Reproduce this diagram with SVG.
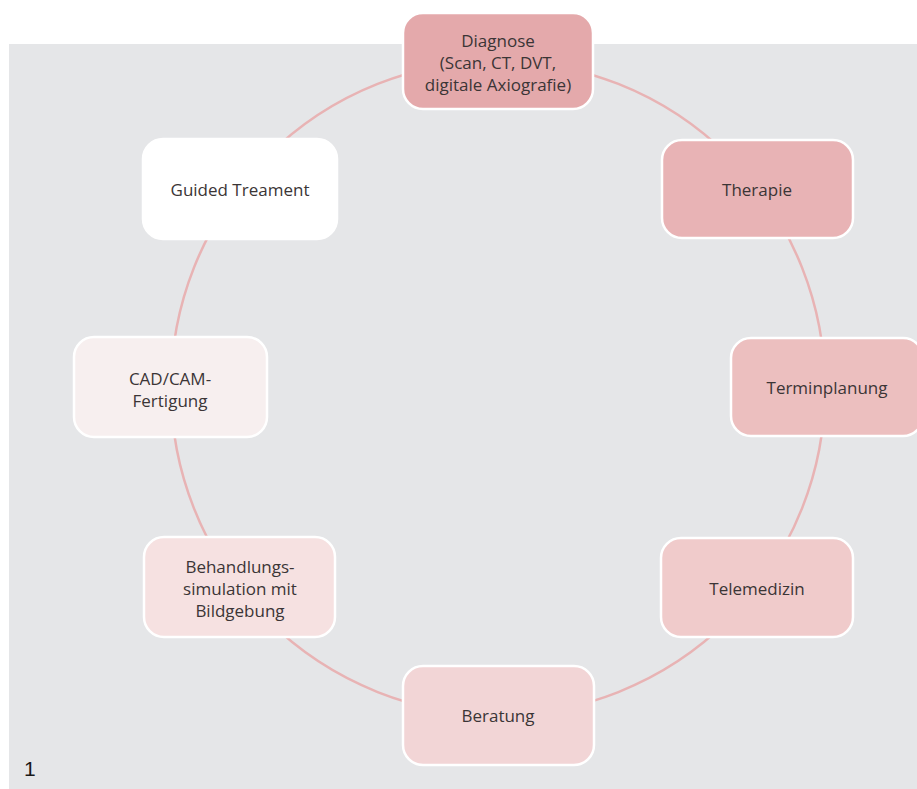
<svg xmlns="http://www.w3.org/2000/svg" width="917" height="789" viewBox="0 0 917 789">
<style>
.node rect{stroke:#ffffff;stroke-width:2.5}
.node text{font-family:"Open Sans","Noto Sans",sans-serif;font-size:17px;fill:#3b3536;text-anchor:middle}
.conn{fill:none;stroke:#e8b3b4;stroke-width:2.5}
</style>
<rect x="9" y="44" width="910" height="746" fill="#e5e6e8"/>
<g id="connectors">
<circle class="conn" cx="498" cy="388" r="327"/>
</g>
<g id="n-diagnose" class="node">
<rect x="403" y="13" width="190" height="96" rx="20" fill="#e4a9ab"/>
<text x="498" y="47">Diagnose</text>
<text x="498" y="69">(Scan, CT, DVT,</text>
<text x="498" y="91">digitale Axiografie)</text>
</g>
<g id="n-therapie" class="node">
<rect x="662" y="140" width="191" height="98" rx="20" fill="#e8b3b5"/>
<text x="757" y="196">Therapie</text>
</g>
<g id="n-terminplanung" class="node">
<rect x="731" y="338" width="192" height="98" rx="20" fill="#ecbfbf"/>
<text x="827" y="394">Terminplanung</text>
</g>
<g id="n-telemedizin" class="node">
<rect x="661" y="538" width="192" height="99" rx="20" fill="#f0cbcb"/>
<text x="757" y="595">Telemedizin</text>
</g>
<g id="n-beratung" class="node">
<rect x="403" y="666" width="191" height="99" rx="20" fill="#f2d5d6"/>
<text x="498" y="722">Beratung</text>
</g>
<g id="n-behandlung" class="node">
<rect x="144" y="537" width="191" height="100" rx="20" fill="#f6e1e1"/>
<text x="240" y="573">Behandlungs-</text>
<text x="240" y="595">simulation mit</text>
<text x="240" y="617">Bildgebung</text>
</g>
<g id="n-cadcam" class="node">
<rect x="74" y="337" width="193" height="100" rx="20" fill="#f7efef"/>
<text x="170" y="385">CAD/CAM-</text>
<text x="170" y="407">Fertigung</text>
</g>
<g id="n-guided" class="node">
<rect x="143" y="139" width="194" height="100" rx="20" fill="#ffffff"/>
<text x="240" y="196">Guided Treament</text>
</g>
<text x="24" y="776" font-family="Liberation Sans, Arial, sans-serif" font-size="21" fill="#1a1a1a">1</text>
</svg>
